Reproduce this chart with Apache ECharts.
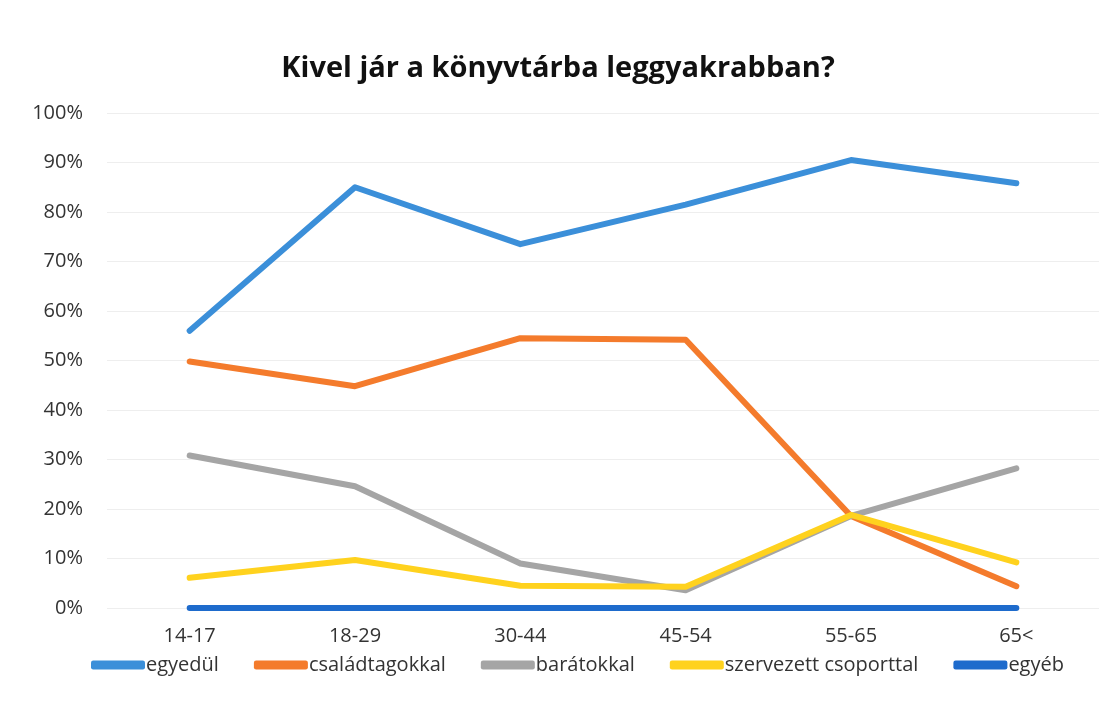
<!DOCTYPE html>
<html lang="hu">
<head>
<meta charset="UTF-8">
<title>Kivel jár a könyvtárba leggyakrabban?</title>
<script src="https://cdn.jsdelivr.net/npm/echarts@6/dist/echarts.min.js"></script>
<style>
    body { margin: 0; padding: 0; background: #fff; }
    #main { width: 1116px; height: 724px; }
</style>
</head>
<body>
<div id="main"></div>
<script type="text/javascript">
    // korcsoportok
    var korcsoportok = ['14-17', '18-29', '30-44', '45-54', '55-65', '65<'];
    // százalékos értékek (leolvasva)
    var egyedul = [56, 85, 73.5, 81.5, 90.5, 85.8];
    var csaladtagokkal = [49.8, 44.8, 54.5, 54.2, 18.6, 4.4];
    var baratokkal = [30.8, 24.6, 9, 3.6, 18.6, 28.2];
    var szervezett = [6.1, 9.7, 4.5, 4.3, 18.8, 9.2];
    var egyeb = [0, 0, 0, 0, 0, 0];
    var yTicks = [0, 10, 20, 30, 40, 50, 60, 70, 80, 90, 100];

    var myChart = echarts.init(document.getElementById('main'));

    function sor(nev, adat, szin) {
        return {
            name: nev,
            type: 'line',
            data: adat,
            symbol: 'none',
            color: szin,
            lineStyle: { width: 6, color: szin, cap: 'round', join: 'round' }
        };
    }

    var option = {
        backgroundColor: '#fff',
        animation: false,
        title: {
            text: 'Kivel jár a könyvtárba leggyakrabban?',
            left: 'center',
            top: 49,
            textStyle: { fontFamily: 'Open Sans', fontWeight: 'bold', fontSize: 29, color: '#111' }
        },
        legend: {
            bottom: 44,
            left: 86,
            icon: 'roundRect',
            itemWidth: 54,
            itemHeight: 9,
            itemGap: 35,
            textStyle: { fontFamily: 'Open Sans', fontSize: 20, color: '#333', padding: [0, 0, 0, -4] },
            data: ['egyedül', 'családtagokkal', 'barátokkal', 'szervezett csoporttal', 'egyéb']
        },
        grid: { left: 107, right: 17, top: 113, bottom: 116 },
        xAxis: {
            type: 'category',
            data: korcsoportok,
            boundaryGap: true,
            axisLine: { show: false },
            axisTick: { show: false },
            axisLabel: { fontFamily: 'Open Sans', fontSize: 20, color: '#333', margin: 18 }
        },
        yAxis: {
            type: 'value',
            min: yTicks[0],
            max: yTicks[yTicks.length - 1],
            interval: 10,
            axisLine: { show: false },
            axisTick: { show: false },
            splitLine: { lineStyle: { color: '#eeeeee', width: 1 } },
            axisLabel: { formatter: '{value}%', fontFamily: 'Open Sans', fontSize: 20, color: '#333', margin: 24 }
        },
        series: [
            sor('egyedül', egyedul, '#3b8fd9'),
            sor('családtagokkal', csaladtagokkal, '#f47b2c'),
            sor('barátokkal', baratokkal, '#a5a5a5'),
            sor('szervezett csoporttal', szervezett, '#ffd21e'),
            sor('egyéb', egyeb, '#1e6bcc')
        ]
    };

    myChart.setOption(option);
</script>
</body>
</html>
